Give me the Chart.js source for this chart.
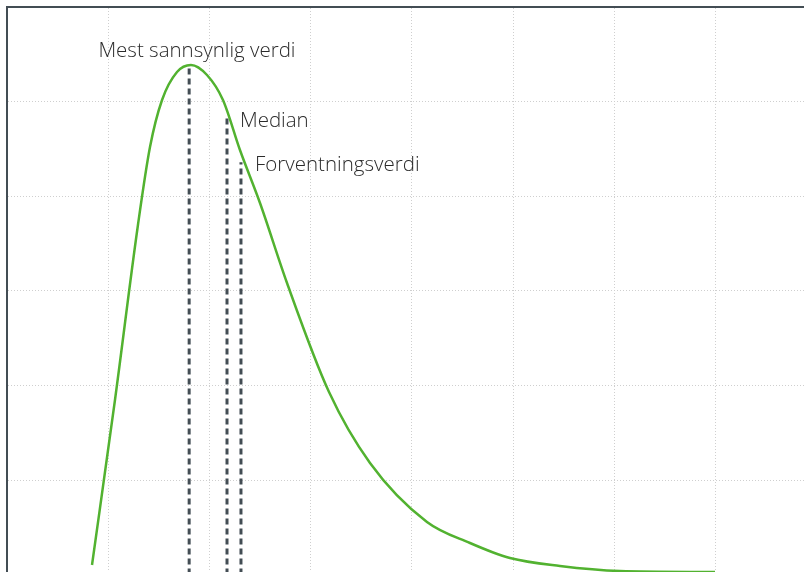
<!DOCTYPE html>
<html>
<head>
<meta charset="utf-8">
<script src="https://cdn.jsdelivr.net/npm/chart.js@4.4.1/dist/chart.umd.min.js"></script>
<style>
  html, body { margin: 0; padding: 0; background: #fff; overflow: hidden; }
  #wrap { position: absolute; left: 0; top: 0; width: 820px; height: 580px; }
</style>
</head>
<body>
<div id="wrap"><canvas id="chart"></canvas></div>
<script>
// Curve (x, density)
const curveX = [0.84, 1.067, 1.294, 1.413, 1.532, 1.68, 1.818, 1.976, 2.134, 2.302, 2.5, 2.767, 3.182, 3.587, 4.15, 4.575, 4.97, 5.464, 6.057, 6.996];
const curveY = [0.101, 1.846, 3.696, 4.52, 5.017, 5.313, 5.387, 5.281, 5.017, 4.488, 3.928, 3.082, 1.93, 1.18, 0.556, 0.334, 0.175, 0.091, 0.038, 0.027];

// Marker lines: mode, median, mean
const markerNames = ["Mest sannsynlig verdi", "Median", "Forventningsverdi"];
const markerX = [1.8, 2.174, 2.312];
const markerTop = [5.387, 4.837, 4.36];

// Label anchors (data units)
const labelX = [1.877, 2.302, 2.451];
const labelY = [5.47, 4.732, 4.266];
const labelAlign = ["center", "left", "left"];

const green = "#52b230";
const dark = "#434d54";
const gridColor = "#cfcfcf";

// Build datasets
const curveData = curveX.map((x, i) => ({ x: x, y: curveY[i] }));
const markerSets = markerX.map((x, i) => ({
    label: markerNames[i],
    data: [{ x: x, y: 0 }, { x: x, y: markerTop[i] }],
    borderColor: dark,
    borderWidth: 3,
    borderDash: [6, 4],
    pointRadius: 0,
    order: 2
}));

// Text labels plugin
const labelPlugin = {
    id: "labels",
    afterDatasetsDraw(chart) {
        const ctx = chart.ctx;
        const xs = chart.scales.x, ys = chart.scales.y;
        ctx.save();
        ctx.font = "300 20.5px 'Open Sans', sans-serif";
        ctx.fillStyle = "#2b2b2b";
        ctx.textBaseline = "alphabetic";
        markerNames.forEach((name, i) => {
            ctx.textAlign = labelAlign[i];
            ctx.fillText(name, xs.getPixelForValue(labelX[i]), ys.getPixelForValue(labelY[i]));
        });
        ctx.restore();
    }
};

const ctx = document.getElementById("chart").getContext("2d");
new Chart(ctx, {
    type: "line",
    data: {
        datasets: [{
            label: "Fordeling",
            data: curveData,
            borderColor: green,
            borderWidth: 2.5,
            pointRadius: 0,
            cubicInterpolationMode: "monotone",
            order: 1
        }, ...markerSets]
    },
    options: {
        responsive: true,
        maintainAspectRatio: false,
        animation: false,
        layout: { padding: { left: 7, top: 7, right: 3.4, bottom: 5.4 } },
        plugins: { legend: { display: false }, tooltip: { enabled: false } },
        scales: {
            x: {
                type: "linear",
                position: "top",
                min: 0,
                max: 8,
                ticks: { display: false, stepSize: 1 },
                grid: { color: gridColor, lineWidth: 1, drawTicks: false },
                border: { display: true, color: dark, width: 2, dash: [1, 2] }
            },
            y: {
                min: 0,
                max: 6,
                ticks: { display: false, stepSize: 1 },
                grid: { color: gridColor, lineWidth: 1, drawTicks: false },
                border: { display: true, color: dark, width: 2, dash: [1, 2] }
            }
        }
    },
    plugins: [labelPlugin]
});
</script>
</body>
</html>
